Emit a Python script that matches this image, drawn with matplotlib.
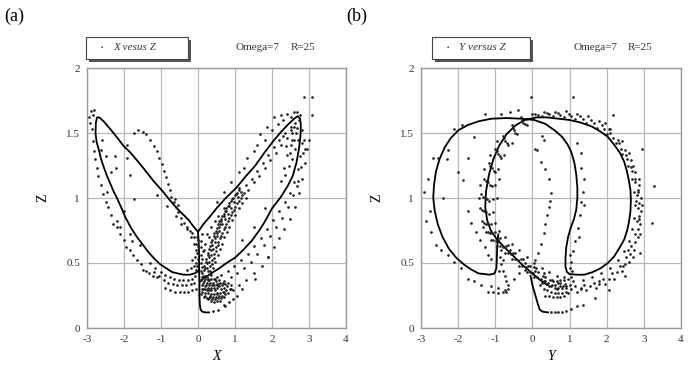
import matplotlib
matplotlib.use("Agg")
import matplotlib.pyplot as plt
from matplotlib.patches import Rectangle

plt.rcParams['font.family'] = ['Liberation Serif', 'DejaVu Serif']

# ---------------- panel (a): X versus Z, (x, z) pairs ----------------
a_left_lobe = [(0.03, 0.45), (0.03, 0.55), (0.02, 0.65), (0.0, 0.74), (-0.12, 0.78), (-0.25, 0.83),
               (-0.39, 0.87), (-0.57, 0.92), (-0.75, 0.98), (-0.95, 1.05), (-1.2, 1.13), (-1.42, 1.21),
               (-1.65, 1.29), (-1.83, 1.35), (-2.01, 1.4), (-2.2, 1.47), (-2.37, 1.53), (-2.55, 1.59),
               (-2.67, 1.62), (-2.73, 1.62), (-2.76, 1.58), (-2.77, 1.5), (-2.74, 1.43), (-2.68, 1.37),
               (-2.62, 1.3), (-2.55, 1.24), (-2.46, 1.17), (-2.37, 1.11), (-2.28, 1.05), (-2.19, 1.0),
               (-2.08, 0.93), (-1.96, 0.85), (-1.81, 0.77), (-1.65, 0.70), (-1.49, 0.64), (-1.33, 0.58),
               (-1.17, 0.53), (-1.02, 0.49), (-0.86, 0.46), (-0.7, 0.43), (-0.55, 0.42), (-0.39, 0.41),
               (-0.22, 0.41), (-0.1, 0.42), (-0.03, 0.43), (0.03, 0.45)]
a_right_lobe = [(0.0, 0.74), (0.15, 0.8), (0.3, 0.85), (0.5, 0.92), (0.75, 1.0), (1.04, 1.08), (1.3, 1.17),
                (1.55, 1.25), (1.8, 1.35), (2.04, 1.44), (2.25, 1.51), (2.45, 1.57), (2.6, 1.61), (2.7, 1.63),
                (2.76, 1.61), (2.78, 1.56), (2.77, 1.48), (2.73, 1.38), (2.66, 1.27), (2.56, 1.17),
                (2.42, 1.09), (2.22, 1.0), (2.0, 0.92), (1.85, 0.84), (1.68, 0.76), (1.45, 0.67), (1.22, 0.6),
                (1.0, 0.54), (0.77, 0.5), (0.58, 0.46), (0.41, 0.43), (0.25, 0.4), (0.14, 0.38), (0.06, 0.36)]
a_stem = [(0.03, 0.45), (0.04, 0.35), (0.04, 0.25), (0.05, 0.18), (0.07, 0.14), (0.12, 0.125),
          (0.2, 0.12), (0.3, 0.12)]

a_outer_left = [(-2.95, 1.62), (-2.9, 1.67), (-2.85, 1.64), (-2.8, 1.68), (-2.92, 1.58), (-2.86, 1.53),
                (-2.84, 1.44), (-2.82, 1.36), (-2.78, 1.3), (-2.74, 1.23), (-2.7, 1.17), (-2.62, 1.1),
                (-2.58, 1.03), (-2.5, 0.97), (-2.44, 0.93), (-2.35, 0.87), (-2.3, 0.8), (-2.2, 0.78),
                (-2.12, 0.72), (-2.0, 0.68), (-1.95, 0.62), (-1.85, 0.6), (-1.75, 0.56), (-1.66, 0.52),
                (-1.55, 0.49), (-1.48, 0.45), (-1.4, 0.44), (-1.32, 0.42), (-1.22, 0.4), (-1.12, 0.39)]
a_inside_left = [(-2.6, 1.45), (-2.62, 1.37), (-2.5, 1.32), (-2.24, 1.32), (-2.21, 1.23), (-1.92, 1.41),
                 (-1.92, 1.31), (-1.83, 1.18), (-1.74, 0.99), (-1.83, 0.72), (-1.78, 0.67), (-1.56, 0.64),
                 (-2.19, 0.82), (-2.1, 0.78), (-2.45, 1.05), (-2.0, 0.9), (-2.35, 1.2)]
a_ghost = [(-1.72, 1.5), (-1.62, 1.52), (-1.5, 1.51), (-1.4, 1.49), (-1.3, 1.45), (-1.2, 1.4), (-1.12, 1.36),
           (-1.05, 1.31), (-0.98, 1.26), (-0.92, 1.21), (-0.86, 1.16), (-0.82, 1.11), (-0.77, 1.06),
           (-0.72, 1.01), (-0.66, 0.97), (-0.6, 0.93), (-0.53, 0.89), (-0.46, 0.85), (-0.38, 0.81),
           (-0.3, 0.78), (-0.22, 0.75), (-0.15, 0.73), (-0.1, 0.7), (-0.62, 0.99), (-0.55, 0.95),
           (-1.1, 1.02), (-0.85, 0.94), (-0.6, 0.86), (-0.45, 0.8), (-0.3, 0.76), (-0.2, 0.7), (-0.1, 0.65)]
a_under_left = [(-1.3, 0.5), (-1.15, 0.46), (-1.0, 0.43), (-0.88, 0.41), (-0.76, 0.39), (-0.64, 0.38),
                (-0.52, 0.37), (-0.4, 0.37), (-0.28, 0.37), (-0.16, 0.38), (-0.08, 0.4),
                (-1.2, 0.43), (-1.05, 0.4), (-0.92, 0.37), (-0.8, 0.35), (-0.68, 0.34), (-0.56, 0.33),
                (-0.44, 0.33), (-0.32, 0.33), (-0.2, 0.34), (-0.1, 0.35),
                (-0.9, 0.31), (-0.75, 0.29), (-0.62, 0.28), (-0.5, 0.28), (-0.38, 0.28), (-0.26, 0.28),
                (-0.15, 0.29), (-0.05, 0.3), (-0.3, 0.45), (-0.18, 0.46), (-0.1, 0.48), (-0.15, 0.52)]
a_junction = [(-0.06, 0.45), (-0.06, 0.5), (-0.07, 0.55), (-0.06, 0.6), (-0.05, 0.65), (-0.04, 0.7),
              (-0.02, 0.48), (-0.01, 0.53), (-0.02, 0.58), (-0.01, 0.63), (-0.01, 0.68), (0.07, 0.44),
              (0.08, 0.5), (0.07, 0.56), (0.08, 0.62), (0.09, 0.67), (0.11, 0.72), (0.1, 0.47),
              (0.12, 0.53), (0.13, 0.59)]
a_streak = [(0.12, 0.42), (0.17, 0.48), (0.22, 0.53), (0.27, 0.58), (0.32, 0.63), (0.38, 0.68), (0.44, 0.73),
            (0.5, 0.77), (0.57, 0.82), (0.64, 0.86), (0.72, 0.9), (0.8, 0.94), (0.9, 0.98), (1.0, 1.02),
            (1.1, 1.06),
            (0.2, 0.4), (0.25, 0.46), (0.3, 0.51), (0.35, 0.56), (0.4, 0.61), (0.46, 0.66), (0.52, 0.71),
            (0.58, 0.75), (0.65, 0.8), (0.72, 0.84), (0.8, 0.88), (0.88, 0.92), (0.97, 0.97), (1.07, 1.01),
            (1.17, 1.05),
            (0.27, 0.38), (0.32, 0.44), (0.37, 0.49), (0.42, 0.54), (0.48, 0.59), (0.54, 0.64), (0.6, 0.69),
            (0.66, 0.73), (0.73, 0.78), (0.8, 0.82), (0.88, 0.87), (0.96, 0.91), (1.05, 0.96), (1.15, 1.0),
            (1.25, 1.04),
            (0.16, 0.45), (0.21, 0.51), (0.26, 0.56), (0.31, 0.61), (0.36, 0.66), (0.42, 0.71), (0.48, 0.75),
            (0.55, 0.8), (0.62, 0.84), (0.69, 0.88), (0.76, 0.92), (0.85, 0.96), (0.95, 1.0), (1.05, 1.04),
            (0.14, 0.4), (0.19, 0.46), (0.24, 0.5), (0.29, 0.55), (0.34, 0.6), (0.39, 0.64), (0.45, 0.69),
            (0.51, 0.73), (0.57, 0.78), (0.63, 0.82), (0.7, 0.86), (0.77, 0.9), (0.85, 0.94), (0.93, 0.99),
            (1.02, 1.03), (1.12, 1.08),
            (0.23, 0.39), (0.28, 0.44), (0.33, 0.48), (0.38, 0.52), (0.43, 0.57), (0.49, 0.62), (0.55, 0.66),
            (0.62, 0.71), (0.69, 0.76), (0.76, 0.8), (0.84, 0.85), (0.92, 0.89), (1.0, 0.93), (1.1, 0.98),
            (1.2, 1.02),
            (0.31, 0.37), (0.36, 0.41), (0.41, 0.46), (0.47, 0.51), (0.53, 0.56), (0.59, 0.61), (0.65, 0.65),
            (0.71, 0.7), (0.78, 0.74), (0.85, 0.78), (0.93, 0.83), (1.01, 0.87), (1.1, 0.92), (1.2, 0.96),
            (1.3, 1.0),
            (1.3, 1.1), (1.45, 1.15), (1.6, 1.21), (1.75, 1.27), (1.9, 1.33), (2.05, 1.39), (2.2, 1.45),
            (2.35, 1.5), (2.5, 1.55), (2.62, 1.58),
            (1.35, 1.06), (1.5, 1.12), (1.65, 1.17), (1.8, 1.23), (1.95, 1.29), (2.1, 1.35), (2.25, 1.41),
            (2.4, 1.46), (2.55, 1.5), (2.68, 1.54),
            (0.25, 0.72), (0.35, 0.78), (0.3, 0.7), (0.45, 0.82), (0.55, 0.86), (0.6, 0.8), (0.7, 0.92),
            (0.2, 0.65), (0.15, 0.6)]
a_above_v = [(0.5, 0.97), (0.7, 1.05), (0.9, 1.12), (1.1, 1.2), (1.23, 1.23), (1.32, 1.31), (1.5, 1.36),
             (1.6, 1.41), (1.68, 1.49), (1.8, 1.45), (1.86, 1.55), (2.0, 1.52), (2.05, 1.62), (2.15, 1.57),
             (2.23, 1.64), (2.3, 1.6), (2.41, 1.65), (2.5, 1.62), (2.59, 1.66), (2.68, 1.66), (2.77, 1.64),
             (2.72, 1.6)]
a_outer_right = [(2.82, 1.52), (2.8, 1.42), (2.76, 1.32), (2.7, 1.22), (2.6, 1.12), (2.48, 1.04), (2.34, 0.97),
                 (2.18, 0.9), (2.02, 0.83), (1.86, 0.76), (1.7, 0.69), (1.52, 0.63), (1.34, 0.57), (1.16, 0.52),
                 (0.98, 0.48), (0.8, 0.44), (0.62, 0.41), (0.45, 0.38),
                 (2.86, 1.45), (2.83, 1.35), (2.78, 1.24), (2.7, 1.13), (2.58, 1.02), (2.43, 0.93), (2.27, 0.85),
                 (2.11, 0.78), (1.95, 0.71), (1.78, 0.64), (1.6, 0.57), (1.42, 0.51), (1.24, 0.46), (1.06, 0.42),
                 (0.88, 0.39), (0.7, 0.36), (0.52, 0.34),
                 (2.9, 1.38), (2.88, 1.27), (2.82, 1.15), (2.74, 1.04), (2.62, 0.93), (2.48, 0.84), (2.33, 0.76),
                 (2.2, 0.69), (2.05, 0.62), (1.9, 0.55), (1.72, 0.48), (1.5, 0.42), (1.3, 0.37), (1.1, 0.33),
                 (0.9, 0.3), (0.7, 0.28), (0.5, 0.26), (0.32, 0.24),
                 (2.41, 1.33), (2.32, 1.23), (2.23, 1.13), (2.5, 1.41), (2.6, 1.45), (2.55, 1.3), (1.8, 0.92),
                 (1.5, 0.78), (1.2, 0.68),
                 (2.6, 1.55), (2.65, 1.5), (2.7, 1.45), (2.55, 1.45), (2.62, 1.38), (2.48, 1.35), (2.45, 1.25),
                 (2.35, 1.18), (2.38, 1.4), (2.5, 1.52), (2.3, 1.48)]
a_bottom = [(0.1, 0.33), (0.18, 0.32), (0.26, 0.31), (0.34, 0.31), (0.42, 0.31), (0.5, 0.31), (0.58, 0.32),
            (0.66, 0.33), (0.74, 0.34), (0.82, 0.35), (0.12, 0.28), (0.2, 0.27), (0.28, 0.27), (0.36, 0.26),
            (0.44, 0.26), (0.52, 0.27), (0.6, 0.27), (0.68, 0.28), (0.76, 0.29), (0.86, 0.3), (0.15, 0.24),
            (0.23, 0.23), (0.31, 0.23), (0.39, 0.22), (0.47, 0.22), (0.55, 0.23), (0.63, 0.23), (0.71, 0.24),
            (0.08, 0.37), (0.16, 0.36), (0.24, 0.35), (0.32, 0.35), (0.4, 0.35), (0.48, 0.36), (0.56, 0.37),
            (0.12, 0.39), (0.2, 0.3), (0.3, 0.29), (0.38, 0.33), (0.46, 0.29), (0.54, 0.34), (0.62, 0.3),
            (0.1, 0.3),
            (0.14, 0.35), (0.22, 0.33), (0.3, 0.33), (0.36, 0.29), (0.44, 0.33), (0.52, 0.33), (0.6, 0.35),
            (0.68, 0.35), (0.7, 0.31), (0.78, 0.32), (0.9, 0.33), (0.14, 0.3), (0.24, 0.29), (0.32, 0.25),
            (0.4, 0.24), (0.48, 0.24), (0.56, 0.25), (0.64, 0.25), (0.72, 0.26), (0.8, 0.27), (0.94, 0.29),
            (0.2, 0.25), (0.27, 0.22), (0.35, 0.21), (0.43, 0.2), (0.51, 0.21), (0.59, 0.21), (0.18, 0.38),
            (0.26, 0.37), (0.34, 0.38), (0.42, 0.38), (0.5, 0.39), (0.09, 0.26)]
a_outliers = [(2.86, 1.78), (3.08, 1.78), (3.08, 1.64), (2.95, 1.38), (2.68, 1.09), (3.0, 1.45), (1.9, 0.55),
              (1.55, 0.38), (1.2, 0.3), (1.05, 0.25), (0.69, 0.18), (0.41, 0.13), (0.55, 0.14), (0.73, 0.17),
              (0.85, 0.2), (0.95, 0.22)]

# ---------------- panel (b): Y versus Z ----------------
b_main = [(-0.92, 0.72), (-0.95, 0.62), (-0.96, 0.52), (-0.97, 0.46), (-1.02, 0.42), (-1.15, 0.41),
          (-1.3, 0.415), (-1.45, 0.42), (-1.65, 0.45), (-1.85, 0.49), (-2.05, 0.54), (-2.25, 0.61),
          (-2.42, 0.7), (-2.55, 0.8), (-2.63, 0.9), (-2.67, 1.0), (-2.65, 1.1), (-2.6, 1.2), (-2.5, 1.3),
          (-2.36, 1.39), (-2.2, 1.46), (-2.0, 1.52), (-1.75, 1.56), (-1.45, 1.59), (-1.1, 1.61),
          (-0.7, 1.615), (-0.3, 1.61), (0.05, 1.6), (0.35, 1.57), (0.6, 1.52), (0.8, 1.47), (0.95, 1.41),
          (1.05, 1.35), (1.13, 1.27), (1.18, 1.18), (1.21, 1.08), (1.21, 1.0), (1.18, 0.91), (1.12, 0.84),
          (1.03, 0.77), (0.96, 0.7), (0.91, 0.62), (0.89, 0.54), (0.89, 0.47), (0.93, 0.43), (1.0, 0.415),
          (1.2, 0.41), (1.4, 0.41), (1.62, 0.43), (1.84, 0.46), (2.03, 0.5), (2.2, 0.55), (2.35, 0.62),
          (2.47, 0.68), (2.55, 0.75), (2.6, 0.82), (2.64, 0.9), (2.65, 0.98), (2.64, 1.06), (2.6, 1.13),
          (2.54, 1.21), (2.47, 1.28), (2.35, 1.35), (2.2, 1.41), (2.03, 1.47), (1.84, 1.51), (1.6, 1.55),
          (1.3, 1.58), (1.0, 1.6), (0.7, 1.61), (0.4, 1.62), (0.1, 1.62), (-0.2, 1.6), (-0.45, 1.56),
          (-0.7, 1.49), (-0.9, 1.4), (-1.05, 1.3), (-1.17, 1.18), (-1.25, 1.05), (-1.27, 0.93),
          (-1.22, 0.83), (-1.12, 0.75), (-0.95, 0.68), (-0.75, 0.62), (-0.5, 0.55), (-0.25, 0.48),
          (0.0, 0.42), (0.2, 0.37), (0.4, 0.33)]
b_stem = [(-0.05, 0.4), (0.0, 0.33), (0.08, 0.25), (0.15, 0.18), (0.2, 0.14), (0.28, 0.125), (0.42, 0.12)]

b_right_band = [(0.0, 1.65), (0.3, 1.66), (0.6, 1.66), (0.9, 1.67), (1.2, 1.65), (1.5, 1.63), (1.8, 1.59),
                (2.05, 1.53), (2.3, 1.45), (2.5, 1.37), (2.65, 1.29), (2.77, 1.2), (2.86, 1.1), (2.92, 1.0),
                (2.93, 0.9), (2.9, 0.8), (2.84, 0.7), (2.74, 0.6), (2.6, 0.51), (2.42, 0.44), (2.2, 0.38),
                (1.95, 0.34), (1.7, 0.31), (1.45, 0.29), (1.2, 0.28), (0.95, 0.27),
                (0.15, 1.64), (0.45, 1.65), (0.75, 1.64), (1.05, 1.63), (1.35, 1.61), (1.65, 1.58), (1.92, 1.53),
                (2.17, 1.46), (2.38, 1.38), (2.55, 1.3), (2.67, 1.21), (2.76, 1.12), (2.81, 1.02), (2.83, 0.92),
                (2.81, 0.82), (2.76, 0.72), (2.66, 0.63), (2.52, 0.55), (2.36, 0.48), (2.15, 0.42), (1.9, 0.38),
                (1.65, 0.35), (1.4, 0.33), (1.15, 0.32), (0.9, 0.31),
                (0.25, 1.63), (0.55, 1.63), (0.85, 1.62), (1.15, 1.61), (1.45, 1.58), (1.75, 1.54), (2.0, 1.49),
                (2.25, 1.42), (2.42, 1.34), (2.57, 1.25), (2.68, 1.15), (2.73, 1.05), (2.75, 0.95), (2.73, 0.85),
                (2.68, 0.76), (2.6, 0.67), (2.46, 0.59), (2.3, 0.52), (2.1, 0.46), (1.85, 0.42), (1.6, 0.39),
                (1.35, 0.37), (1.1, 0.36),
                (0.08, 1.645), (0.38, 1.655), (0.68, 1.655), (0.98, 1.65), (1.28, 1.63), (1.58, 1.6), (1.86, 1.56),
                (2.1, 1.5), (2.33, 1.42), (2.52, 1.33), (2.66, 1.24), (2.77, 1.15), (2.85, 1.06), (2.88, 0.96),
                (2.87, 0.86), (2.84, 0.76), (2.76, 0.66), (2.64, 0.57), (2.48, 0.49), (2.28, 0.43), (2.05, 0.38),
                (1.8, 0.34), (1.55, 0.32), (1.3, 0.31), (1.05, 0.3),
                (2.88, 1.15), (2.95, 0.95), (2.9, 0.72), (2.7, 0.55), (2.45, 0.48), (2.6, 1.35), (2.4, 1.44),
                (2.1, 1.53), (2.78, 0.98), (2.86, 0.84), (2.58, 0.6), (1.8, 0.36), (1.3, 0.3), (2.7, 1.25),
                (1.95, 1.58), (2.85, 1.05)]
b_left_band = [(-0.3, 1.62), (-0.55, 1.56), (-0.8, 1.48), (-1.0, 1.38), (-1.18, 1.27), (-1.3, 1.15),
               (-1.38, 1.03), (-1.4, 0.92), (-1.35, 0.82), (-1.26, 0.74), (-1.12, 0.68), (-0.95, 0.63),
               (-0.75, 0.58), (-0.55, 0.53), (-0.35, 0.48), (-0.15, 0.43), (0.05, 0.39), (0.25, 0.35),
               (0.45, 0.32), (0.65, 0.3),
               (-0.25, 1.58), (-0.5, 1.52), (-0.73, 1.44), (-0.92, 1.34), (-1.08, 1.23), (-1.2, 1.12),
               (-1.28, 1.0), (-1.3, 0.9), (-1.25, 0.8), (-1.13, 0.73), (-0.97, 0.67), (-0.78, 0.62),
               (-0.58, 0.57), (-0.38, 0.52), (-0.18, 0.47), (0.02, 0.42), (0.22, 0.38), (0.42, 0.35),
               (0.62, 0.33), (0.82, 0.32),
               (-0.15, 1.56), (-0.42, 1.49), (-0.65, 1.41), (-0.84, 1.31), (-1.0, 1.2), (-1.1, 1.09),
               (-1.16, 0.98), (-1.17, 0.88), (-1.12, 0.8), (-1.02, 0.74), (-0.86, 0.69), (-0.66, 0.64),
               (-0.46, 0.58), (-0.26, 0.53), (-0.06, 0.48), (0.14, 0.43), (0.34, 0.39), (0.54, 0.37),
               (0.74, 0.35),
               (-0.55, 1.42), (-0.76, 1.33), (-0.92, 1.22), (-1.02, 1.1), (-1.07, 0.99), (-1.06, 0.89),
               (-1.0, 0.81), (-0.9, 0.75), (-0.74, 0.7), (-0.55, 0.65), (-0.35, 0.6), (-0.15, 0.55),
               (0.05, 0.5), (0.25, 0.46), (0.45, 0.43), (0.65, 0.4), (0.85, 0.39),
               (-0.28, 1.6), (-0.52, 1.54), (-0.76, 1.46), (-0.96, 1.36), (-1.13, 1.25), (-1.25, 1.13),
               (-1.33, 1.01), (-1.35, 0.91), (-1.3, 0.81), (-1.2, 0.74), (-1.05, 0.68), (-0.87, 0.63),
               (-0.67, 0.58), (-0.47, 0.53), (-0.27, 0.48), (-0.07, 0.43), (0.13, 0.39), (0.33, 0.36),
               (0.53, 0.33), (0.73, 0.32),
               (-0.2, 1.57), (-0.46, 1.5), (-0.69, 1.42), (-0.88, 1.32), (-1.04, 1.21), (-1.15, 1.1),
               (-1.22, 0.99), (-1.24, 0.89), (-1.19, 0.8), (-1.08, 0.73), (-0.92, 0.68), (-0.72, 0.63),
               (-0.52, 0.58), (-0.32, 0.53), (-0.12, 0.48), (0.08, 0.44), (0.28, 0.4), (0.48, 0.37),
               (0.68, 0.35), (0.88, 0.34),
               (-1.45, 1.0), (-1.42, 1.1), (-1.3, 1.22), (-1.15, 1.33), (-0.95, 1.44), (-1.33, 0.78),
               (-0.9, 1.15), (-0.95, 1.0), (-0.6, 0.6), (-0.2, 0.5), (0.3, 0.42), (0.1, 0.46)]
b_bottom = [(0.3, 0.3), (0.4, 0.29), (0.5, 0.28), (0.6, 0.27), (0.7, 0.27), (0.8, 0.27), (0.9, 0.28),
            (0.35, 0.25), (0.45, 0.25), (0.55, 0.24), (0.65, 0.24), (0.75, 0.24), (0.85, 0.25), (0.5, 0.32),
            (0.6, 0.31), (0.7, 0.31), (0.8, 0.31), (0.9, 0.32), (1.0, 0.33), (0.55, 0.36), (0.65, 0.36),
            (0.75, 0.37), (0.85, 0.37), (0.95, 0.38), (1.05, 0.39), (0.4, 0.34), (0.3, 0.36), (0.2, 0.33)]
b_teardrop = [(1.32, 0.97), (1.28, 0.87), (1.23, 0.77), (1.14, 0.67), (1.1, 0.59), (1.05, 0.51), (1.3, 1.23),
              (1.38, 1.15), (1.35, 1.05), (1.3, 1.35), (1.2, 1.42), (1.02, 0.56), (1.0, 0.46), (1.06, 0.44),
              (1.4, 0.95), (1.25, 0.7)]
b_ghost = [(0.06, 1.38), (0.13, 1.37), (0.22, 1.28), (0.33, 1.22), (0.44, 1.15), (0.49, 1.04), (0.47, 0.98),
           (0.44, 0.93), (0.4, 0.87), (0.35, 0.8), (0.3, 0.73), (0.22, 0.65), (0.15, 0.58), (0.08, 0.52),
           (0.03, 0.47), (-0.01, 0.42), (0.3, 1.45), (0.25, 1.48)]
b_left_circle = [(-2.86, 0.82), (-2.6, 0.64), (-2.28, 0.56), (-2.1, 0.51), (-1.92, 0.46), (-1.74, 0.38),
                 (-1.56, 0.36), (-1.38, 0.33), (-1.11, 0.32), (-0.93, 0.31), (-0.75, 0.29), (-2.68, 1.31),
                 (-2.55, 1.31), (-2.28, 1.37), (-2.1, 1.53), (-1.29, 1.65), (-0.84, 1.65), (-0.39, 1.68),
                 (-2.82, 1.15), (-2.91, 1.05), (-2.75, 0.9), (-2.72, 0.74), (-2.45, 0.6), (-1.9, 1.56),
                 (-0.6, 1.66),
                 (-1.74, 0.9), (-1.65, 0.81), (-1.51, 0.74), (-1.42, 0.68), (-1.29, 0.62), (-1.2, 0.56),
                 (-1.11, 0.53), (-1.74, 1.31), (-1.56, 1.47), (-1.87, 1.14), (-2.3, 1.3), (-2.4, 1.0),
                 (-2.0, 1.2)]
b_hook = [(-0.84, 0.49), (-0.8, 0.44), (-0.75, 0.4), (-0.7, 0.36), (-0.66, 0.33), (-0.66, 0.3), (-0.72, 0.28),
          (-0.8, 0.28), (-0.93, 0.27), (-1.05, 0.28), (-1.2, 0.28), (-0.5, 0.38), (-0.35, 0.42), (-0.2, 0.45),
          (-0.88, 0.55), (-0.85, 0.6), (-0.78, 0.52), (-0.9, 0.44)]
b_outliers = [(1.1, 1.78), (-0.03, 1.78), (2.18, 1.64), (2.95, 1.38), (3.26, 1.09), (3.22, 0.81), (2.9, 0.58),
              (2.5, 0.4), (2.05, 0.29), (1.68, 0.23), (1.37, 0.18), (0.5, 0.12), (0.6, 0.12), (0.7, 0.12),
              (0.8, 0.12), (0.9, 0.13), (1.05, 0.15), (1.2, 0.17)]

xticks = [-3, -2, -1, 0, 1, 2, 3, 4]
zticks = [0, 0.5, 1, 1.5, 2]
ztick_labels = ['0', '0.5', '1', '1.5', '2']

W, H = 688, 370
fig = plt.figure(figsize=(W / 100, H / 100), dpi=100)


def fx(px):
    return px / W


def fy(py):
    return 1 - py / H


def draw_panel(ax, lines, groups, xlabel):
    ax.set_xlim(-3, 4)
    ax.set_ylim(0, 2)
    ax.set_xticks(xticks)
    ax.set_xticklabels([str(t) for t in xticks])
    ax.set_yticks(zticks)
    ax.set_yticklabels(ztick_labels)
    ax.grid(True, color='#b8b8b8', linewidth=0.9)
    ax.set_axisbelow(True)
    ax.tick_params(length=0, labelsize=8, colors='#333333', pad=5)
    for s in ax.spines.values():
        s.set_color('#999999')
        s.set_linewidth(1.0)
    for line in lines:
        lx, lz = zip(*line)
        ax.plot(lx, lz, color='black', linewidth=1.3, solid_joinstyle='round')
    for g in groups:
        gx, gz = zip(*g)
        ax.plot(gx, gz, 'o', color='#1e1e1e', markersize=1.9, markeredgewidth=0)
    ax.set_xlabel(xlabel, fontsize=10, style='italic', labelpad=4)
    ax.set_ylabel('Z', fontsize=10, labelpad=12)


ax1 = fig.add_axes([fx(87), fy(328), fx(259), (328 - 68) / H])
draw_panel(ax1, [a_left_lobe, a_right_lobe, a_stem],
           [a_outer_left, a_inside_left, a_ghost, a_under_left, a_junction, a_streak, a_above_v,
            a_outer_right, a_bottom, a_outliers], 'X')

ax2 = fig.add_axes([fx(421), fy(328), fx(260), (328 - 68) / H])
draw_panel(ax2, [b_main, b_stem],
           [b_right_band, b_left_band, b_bottom, b_teardrop, b_ghost, b_left_circle, b_hook, b_outliers], 'Y')


def legend_box(x0, x1, label, omega_x, r_x):
    y0, y1 = 37, 59
    fig.patches.append(Rectangle((fx(x0 + 3), fy(y1 + 3)), fx(x1 - x0), (y1 - y0) / H,
                                 transform=fig.transFigure, facecolor='#555555',
                                 edgecolor='none', zorder=1))
    fig.patches.append(Rectangle((fx(x0), fy(y1)), fx(x1 - x0), (y1 - y0) / H,
                                 transform=fig.transFigure, facecolor='white',
                                 edgecolor='#444444', linewidth=0.8, zorder=2))
    fig.text(fx(x0 + 16), fy(48), '·', fontsize=9, ha='center', va='center', zorder=3)
    fig.text(fx(x0 + 27), fy(48), label, fontsize=8, style='italic', ha='left', va='center',
             color='#333333', zorder=3)
    fig.text(fx(omega_x), fy(48), 'Omega=7', fontsize=8, ha='left', va='center', color='#333333')
    fig.text(fx(r_x), fy(48), 'R=25', fontsize=8, ha='left', va='center', color='#333333')


legend_box(86, 188, 'X vesus Z', 236, 291)
legend_box(432, 530, 'Y versus Z', 573, 628)

fig.text(fx(4), fy(16), '(a)', fontsize=13, ha='left', va='center')
fig.text(fx(346), fy(16), '(b)', fontsize=13, ha='left', va='center')

fig.savefig('out.png', dpi=100)
